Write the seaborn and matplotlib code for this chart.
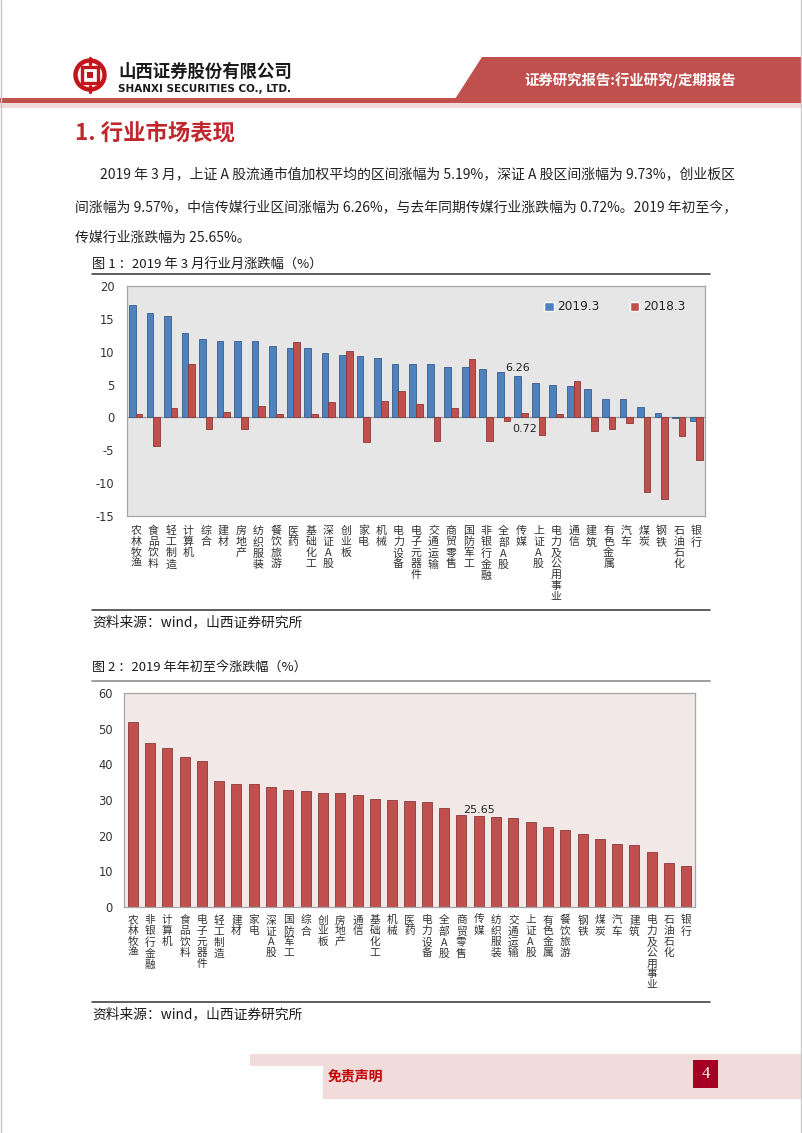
import numpy as np
import pandas as pd
import seaborn as sns
import matplotlib.pyplot as plt
from matplotlib.patches import Polygon, Rectangle, Circle

# chart 1: 2019 March industry returns vs 2018 March
cats1 = ['农林牧渔', '食品饮料', '轻工制造', '计算机', '综合', '建材', '房地产', '纺织服装',
         '餐饮旅游', '医药', '基础化工', '深证A股', '创业板', '家电', '机械', '电力设备',
         '电子元器件', '交通运输', '商贸零售', '国防军工', '非银行金融', '全部A股', '传媒',
         '上证A股', '电力及公用事业', '通信', '建筑', '有色金属', '汽车', '煤炭', '钢铁',
         '石油石化', '银行']
v2019 = [17.1, 15.9, 15.5, 12.8, 11.95, 11.6, 11.6, 11.6, 10.9, 10.5, 10.5, 9.73, 9.57,
         9.3, 9.0, 8.2, 8.2, 8.1, 7.7, 7.6, 7.4, 6.9, 6.26, 5.19, 4.9, 4.75, 4.4, 2.8,
         2.8, 1.6, 0.65, -0.1, -0.5]
v2018 = [0.5, -4.4, 1.4, 8.2, -1.7, 0.9, -1.7, 1.7, 0.5, 11.5, 0.5, 2.4, 10.1, -3.7,
         2.5, 3.95, 2.1, -3.6, 1.4, 8.9, -3.6, -0.6, 0.72, -2.7, 0.5, 5.6, -2.0, -1.7,
         -0.9, -11.3, -12.4, -2.8, -6.5]
series = ['2019.3', '2018.3']

# chart 2: 2019 year-to-date returns
cats2 = ['农林牧渔', '非银行金融', '计算机', '食品饮料', '电子元器件', '轻工制造', '建材', '家电',
         '深证A股', '国防军工', '综合', '创业板', '房地产', '通信', '基础化工', '机械', '医药',
         '电力设备', '全部A股', '商贸零售', '传媒', '纺织服装', '交通运输', '上证A股', '有色金属',
         '餐饮旅游', '钢铁', '煤炭', '汽车', '建筑', '电力及公用事业', '石油石化', '银行']
ytd = [51.9, 46.1, 44.5, 42.1, 40.9, 35.3, 34.6, 34.6, 33.6, 32.9, 32.5, 32.1, 31.9,
       31.3, 30.4, 29.9, 29.7, 29.4, 27.7, 25.8, 25.65, 25.2, 25.0, 23.8, 22.4, 21.5,
       20.4, 19.0, 17.7, 17.4, 15.4, 12.2, 11.5]

BLUE, BLUE_E = '#4F81BD', '#385D8A'
RED, RED_E = '#C0504D', '#8C3836'

sns.set_style('white')
plt.rcParams['font.family'] = ['Noto Sans CJK SC', 'DejaVu Sans']
plt.rcParams['axes.unicode_minus'] = False

W, H = 802, 1133
fig = plt.figure(figsize=(W / 100, H / 100), dpi=100)


def px_axes(x0, y0, x1, y1):
    return fig.add_axes([x0 / W, 1 - y1 / H, (x1 - x0) / W, (y1 - y0) / H])


bg = fig.add_axes([0, 0, 1, 1])
bg.set_xlim(0, W)
bg.set_ylim(H, 0)
bg.axis('off')
renderer = fig.canvas.get_renderer()


def fit_text(x, y, s, width, **kw):
    t = bg.text(x, y, s, **kw)
    w = t.get_window_extent(renderer=renderer).width
    t.set_fontsize(t.get_fontsize() * width / w)
    return t


# page border
bg.plot([1, 1], [0, H], color='#C8C8C8', lw=1)
bg.plot([W - 1.5, W - 1.5], [0, H], color='#C8C8C8', lw=1)

# header
bg.add_patch(Polygon([(482, 57), (W, 57), (W, 99), (455, 99)], closed=True,
                     facecolor='#C0504D', edgecolor='none'))
bg.add_patch(Rectangle((0, 98), W, 5, facecolor='#C0504D', edgecolor='none'))
bg.add_patch(Rectangle((0, 103), W, 5, facecolor='#F2DADA', edgecolor='none'))
bg.add_patch(Circle((90, 75), 14.5, facecolor='none', edgecolor='#C3161C', lw=3.2))
bg.add_patch(Rectangle((82, 67), 16, 16, facecolor='none', edgecolor='#C3161C', lw=2.4))
bg.add_patch(Rectangle((87, 72), 6, 6, facecolor='#C3161C', edgecolor='none'))
bg.plot([90, 90], [58, 64], color='#C3161C', lw=2.4)
bg.plot([90, 90], [86, 92], color='#C3161C', lw=2.4)
fit_text(118, 72, '山西证券股份有限公司', 174, fontsize=12, fontweight='bold',
         color='#1A1A1A', va='center')
fit_text(118, 89, 'SHANXI SECURITIES CO., LTD.', 172, family='Liberation Sans Narrow',
         fontweight='bold', fontsize=9, color='#1A1A1A', va='center')
fit_text(524, 80, '证券研究报告:行业研究/定期报告', 212, color='white', fontsize=10,
         fontweight='bold', va='center')

# section title and paragraph
fit_text(75, 133, '1. 行业市场表现', 160, color='#C0272D', fontsize=14,
         fontweight='bold', va='center')
l1 = fit_text(100, 174, '2019 年 3 月，上证 A 股流通市值加权平均的区间涨幅为 5.19%，'
              '深证 A 股区间涨幅为 9.73%，创业板区', 635, fontsize=10, color='#222222',
              va='center')
fit_text(75, 207, '间涨幅为 9.57%，中信传媒行业区间涨幅为 6.26%，与去年同期传媒行业涨跌幅为 '
         '0.72%。2019 年初至今，', 660, fontsize=10, color='#222222', va='center')
bg.text(75, 238, '传媒行业涨跌幅为 25.65%。', fontsize=l1.get_fontsize(),
        color='#222222', va='center')

# figure 1 titles / rules
fit_text(92, 265, '图 1 ：2019 年 3 月行业月涨跌幅（%）', 231, fontsize=9.5,
         color='#1A1A1A', va='center')
bg.plot([92, 710], [274, 274], color='#333333', lw=1.1)
bg.plot([92, 710], [610, 610], color='#333333', lw=1.1)
src1 = fit_text(92, 622, '资料来源：wind，山西证券研究所', 210, fontsize=10,
                color='#1A1A1A', va='center')

# figure 2 titles / rules
fit_text(92, 667, '图 2 ：2019 年年初至今涨跌幅（%）', 215, fontsize=9.5,
         color='#1A1A1A', va='center')
bg.plot([92, 710], [681, 681], color='#A0A0A0', lw=1.4)
bg.plot([92, 710], [1002, 1002], color='#333333', lw=1.1)
bg.text(92, 1014, '资料来源：wind，山西证券研究所', fontsize=src1.get_fontsize(),
        color='#1A1A1A', va='center')

# footer
bg.add_patch(Rectangle((250, 1054), W - 250, 12, facecolor='#F2DCDB', edgecolor='none'))
bg.add_patch(Rectangle((323, 1054), W - 323, 45, facecolor='#F2DCDB', edgecolor='none'))
bg.text(328, 1076, '免责声明', color='#C00000', fontsize=10, fontweight='bold', va='center')
bg.add_patch(Rectangle((693, 1060), 25, 28, facecolor='#A50021', edgecolor='none'))
bg.text(705.5, 1074, '4', color='white', fontsize=12, family='Liberation Serif',
        ha='center', va='center')

# ---------- chart 1 ----------
df1 = pd.DataFrame({'行业': cats1 * 2, '涨跌幅': v2019 + v2018,
                    '期间': [series[0]] * len(cats1) + [series[1]] * len(cats1)})
ax1 = px_axes(127, 286, 705, 516)
sns.barplot(data=df1, x='行业', y='涨跌幅', hue='期间', palette=[BLUE, RED],
            width=0.76, saturation=1, errorbar=None, ax=ax1)
for cont, ec in zip(ax1.containers, [BLUE_E, RED_E]):
    for b in cont:
        b.set_edgecolor(ec)
        b.set_linewidth(0.6)
ax1.set_facecolor('#E6E6E6')
ax1.set_xlim(-0.5, len(cats1) - 0.5)
ax1.set_ylim(-15, 20)
ax1.set_yticks(range(-15, 21, 5))
ax1.axhline(0, color='#9A9A9A', lw=0.9, zorder=0.5)
ax1.set_xlabel('')
ax1.set_ylabel('')
ax1.set_xticks(range(len(cats1)))
ax1.set_xticklabels(['\n'.join(c) for c in cats1], fontsize=7.9, linespacing=1.12,
                    color='#333333', va='top')
ax1.tick_params(axis='x', length=0, pad=7)
ax1.tick_params(axis='y', length=0, pad=9, labelsize=8.3, labelcolor='#333333')
for lbl in ax1.get_yticklabels():
    lbl.set_family('DejaVu Sans')
for sp in ax1.spines.values():
    sp.set_color('#A6A6A6')
    sp.set_linewidth(0.9)
h, lab = ax1.get_legend_handles_labels()
ax1.legend(h, lab, loc='upper right', bbox_to_anchor=(0.985, 0.985), ncol=2,
           frameon=False, handlelength=0.8, handleheight=0.8, handletextpad=0.3,
           columnspacing=2.5, prop={'family': 'DejaVu Sans', 'size': 8.7})
i = cats1.index('传媒')
b = ax1.containers[0][i]
ax1.annotate(f'{v2019[i]:.2f}', (b.get_x() + b.get_width() / 2, b.get_height()),
             xytext=(0, 6), textcoords='offset points', ha='center', va='center',
             fontsize=8, family='DejaVu Sans', color='#222222')
b = ax1.containers[1][i]
ax1.annotate(f'{v2018[i]:.2f}', (b.get_x() + b.get_width() / 2, b.get_height()),
             xytext=(0, -12), textcoords='offset points', ha='center', va='center',
             fontsize=8, family='DejaVu Sans', color='#222222')

# ---------- chart 2 ----------
ax2 = px_axes(124, 693, 695, 907)
sns.barplot(x=cats2, y=ytd, color=RED, width=0.58, saturation=1, errorbar=None,
            edgecolor=RED_E, linewidth=0.6, ax=ax2)
ax2.set_facecolor('#F2E8E8')
ax2.set_xlim(-0.5, len(cats2) - 0.5)
ax2.set_ylim(0, 60)
ax2.set_yticks(range(0, 61, 10))
ax2.set_xticks(range(len(cats2)))
ax2.set_xticklabels(['\n'.join(c) for c in cats2], fontsize=7.7, linespacing=1.1,
                    color='#333333', va='top')
ax2.tick_params(axis='x', length=0, pad=6)
ax2.tick_params(axis='y', length=0, pad=8, labelsize=8.3, labelcolor='#333333')
for lbl in ax2.get_yticklabels():
    lbl.set_family('DejaVu Sans')
for sp in ax2.spines.values():
    sp.set_color('#A6A6A6')
    sp.set_linewidth(0.9)
j = cats2.index('传媒')
b = ax2.containers[0][j]
ax2.annotate(f'{ytd[j]:.2f}', (b.get_x() + b.get_width() / 2, b.get_height()),
             xytext=(0, 0.5), textcoords='offset points', ha='center', va='bottom',
             fontsize=8, family='DejaVu Sans', color='#222222')

fig.savefig('out.png', dpi=100)
